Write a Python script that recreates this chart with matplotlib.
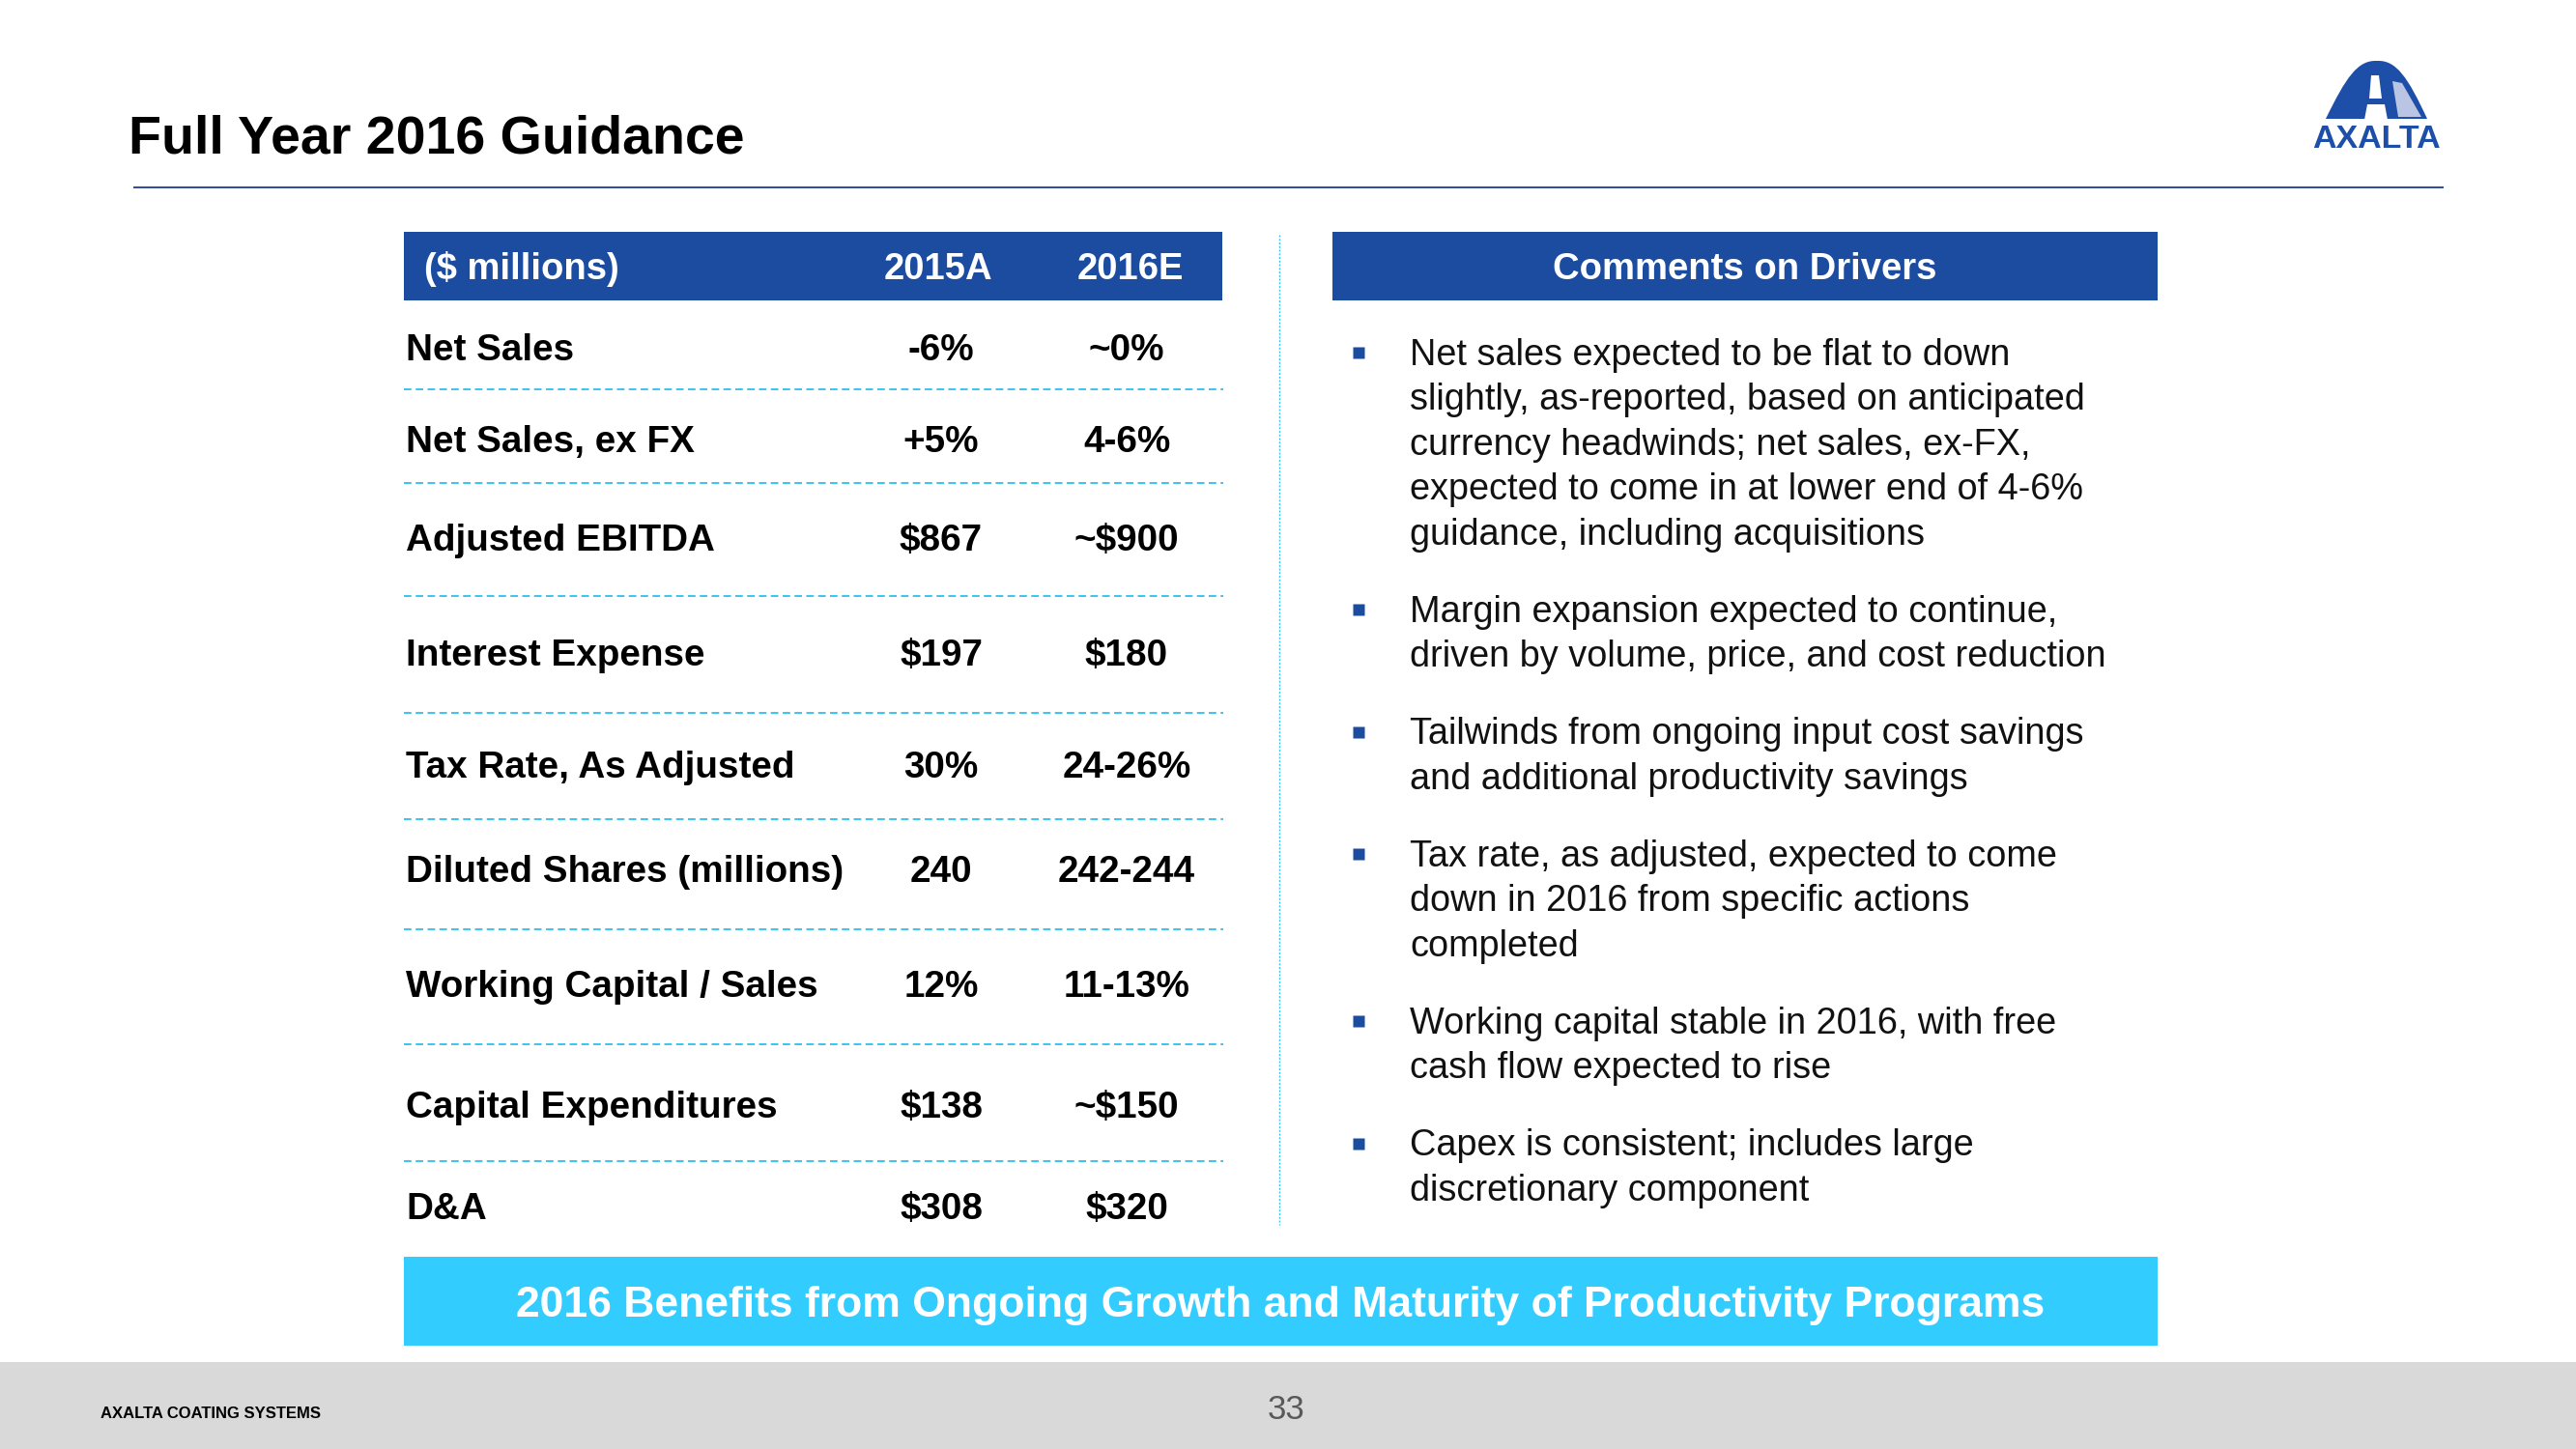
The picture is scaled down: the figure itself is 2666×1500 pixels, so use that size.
import matplotlib
matplotlib.use('Agg')
from matplotlib import pyplot as plt
from matplotlib.patches import Rectangle, Polygon, PathPatch
from matplotlib.path import Path

plt.rcParams['font.family'] = ['Liberation Sans', 'DejaVu Sans']

W, H = 2666, 1500
BLUE = '#1b4ca0'
CYAN = '#33ccff'
DASH = '#3cc4f0'

title = 'Full Year 2016 Guidance'
col_head = ['($ millions)', '2015A', '2016E']
row_labels = ['Net Sales', 'Net Sales, ex FX', 'Adjusted EBITDA', 'Interest Expense',
              'Tax Rate, As Adjusted', 'Diluted Shares (millions)', 'Working Capital / Sales',
              'Capital Expenditures', 'D&A']
vals_2015 = ['-6%', '+5%', '$867', '$197', '30%', '240', '12%', '$138', '$308']
vals_2016 = ['~0%', '4-6%', '~$900', '$180', '24-26%', '242-244', '11-13%', '~$150', '$320']
row_y = [359, 454, 556, 675, 791, 899, 1018, 1143, 1248]
rule_y = [403, 500, 617, 738, 848, 962, 1081, 1202]

comments_head = 'Comments on Drivers'
comments = [
    ['Net sales expected to be flat to down',
     'slightly, as-reported, based on anticipated',
     'currency headwinds; net sales, ex-FX,',
     'expected to come in at lower end of 4-6%',
     'guidance, including acquisitions'],
    ['Margin expansion expected to continue,',
     'driven by volume, price, and cost reduction'],
    ['Tailwinds from ongoing input cost savings',
     'and additional productivity savings'],
    ['Tax rate, as adjusted, expected to come',
     'down in 2016 from specific actions',
     'completed'],
    ['Working capital stable in 2016, with free',
     'cash flow expected to rise'],
    ['Capex is consistent; includes large',
     'discretionary component'],
]
banner = '2016 Benefits from Ongoing Growth and Maturity of Productivity Programs'
footer = 'AXALTA COATING SYSTEMS'
page = '33'


def cap(fs):
    # half the cap height in pixels, to put the visual middle of the text on y
    return fs * 100 / 72 * 0.716 / 2


fig = plt.figure(figsize=(W / 100, H / 100), dpi=100)
ax = fig.add_axes([0, 0, 1, 1])
ax.set_xlim(0, W)
ax.set_ylim(H, 0)
ax.axis('off')

# title + rule
ax.text(133, 139 + cap(40), title, fontsize=40, fontweight='bold', va='baseline', color='black')
ax.plot([139, 2528], [194, 194], color='#2e4a9a', lw=1.4)

# logo
dome = Path([(2407, 123), (2428, 80), (2440, 62), (2460, 63), (2480, 62), (2492, 80), (2512, 123), (2407, 123)],
            [Path.MOVETO, Path.CURVE4, Path.CURVE4, Path.CURVE4, Path.CURVE4, Path.CURVE4, Path.CURVE4, Path.CLOSEPOLY])
ax.add_patch(PathPatch(dome, facecolor='#1d4fa8', edgecolor='none'))
ax.add_patch(Polygon([(2476, 84), (2486, 86), (2506, 121), (2482, 121)], closed=True,
                     facecolor='#b9c5e2', edgecolor='none'))
ax.add_patch(Polygon([(2454, 78), (2462, 78), (2465, 102), (2452, 102)], closed=True,
                     facecolor='white', edgecolor='none'))
ax.add_patch(Polygon([(2450, 108), (2468, 108), (2471, 124), (2447, 124)], closed=True,
                     facecolor='white', edgecolor='none'))
ax.text(2459, 141 + cap(24.5), 'AXALTA', fontsize=24.5, fontweight='heavy', color='#1d4fa8',
        ha='center', va='baseline')

# left table
ax.add_patch(Rectangle((418, 240), 847, 71, facecolor=BLUE, edgecolor='none'))
head_y = 275 + cap(27.5)
ax.text(439, head_y, col_head[0], fontsize=27.5, fontweight='bold', color='white', va='baseline')
ax.text(971, head_y, col_head[1], fontsize=27.5, fontweight='bold', color='white', va='baseline', ha='center')
ax.text(1170, head_y, col_head[2], fontsize=27.5, fontweight='bold', color='white', va='baseline', ha='center')

for lab, a, b, y in zip(row_labels, vals_2015, vals_2016, row_y):
    yb = y + cap(27.8)
    ax.text(420, yb, lab, fontsize=27.8, fontweight='bold', va='baseline', color='black')
    ax.text(974, yb, a, fontsize=27.8, fontweight='bold', va='baseline', ha='center', color='black')
    ax.text(1166, yb, b, fontsize=27.8, fontweight='bold', va='baseline', ha='center', color='black')

for y in rule_y:
    ax.plot([418, 1266], [y, y], color=DASH, lw=1.4, linestyle=(0, (4, 2.3)))

# separator
ax.plot([1324, 1324], [243, 1268], color=DASH, lw=1.0, linestyle=(0, (1.5, 1.2)))

# right panel
ax.add_patch(Rectangle((1379, 240), 854, 71, facecolor=BLUE, edgecolor='none'))
ax.text(1806, head_y, comments_head, fontsize=27.5, fontweight='bold', color='white',
        va='baseline', ha='center')

y = 364
for lines in comments:
    ax.plot([1406], [y + 1], marker='s', ms=8, color=BLUE, mec='none', linestyle='none')
    for line in lines:
        ax.text(1459, y + cap(27.3), line, fontsize=27.3, va='baseline', color='#111111')
        y += 46.5
    y += 33.5

# banner
ax.add_patch(Rectangle((418, 1301), 1815, 92, facecolor=CYAN, edgecolor='none'))
ax.text(1325, 1347 + cap(32), banner, fontsize=32, fontweight='bold', color='white',
        ha='center', va='baseline')

# footer
ax.add_patch(Rectangle((0, 1410), W, 90, facecolor='#d9d9d9', edgecolor='none'))
ax.text(104, 1462 + cap(12), footer, fontsize=12, fontweight='bold', color='black', va='baseline')
ax.text(1331, 1457 + cap(25), page, fontsize=25, color='#595959', ha='center', va='baseline')

fig.savefig('out.png', dpi=100)
